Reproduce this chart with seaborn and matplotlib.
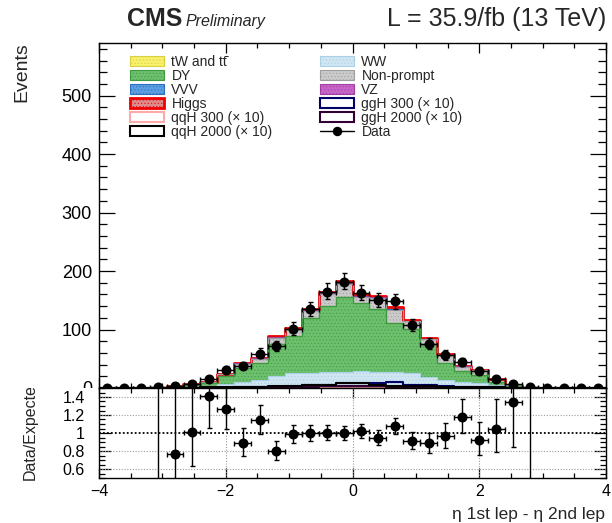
import numpy as np
import pandas as pd
import matplotlib
matplotlib.use("Agg")
import matplotlib.pyplot as plt
import seaborn as sns
from matplotlib.patches import Patch
from matplotlib.lines import Line2D
from matplotlib.transforms import Bbox, TransformedBbox
from matplotlib.ticker import MultipleLocator, FixedLocator

sns.set_theme(style="ticks")
plt.rcParams["font.family"] = ["Liberation Sans", "DejaVu Sans"]
plt.rcParams["hatch.linewidth"] = 0.35
plt.rcParams["axes.linewidth"] = 1.0
plt.rcParams["axes.edgecolor"] = "black"

# 30 bins of eta(lep1) - eta(lep2) between -4 and 4
n_bins = 30
x_range = (-4.0, 4.0)
bin_edges = np.linspace(x_range[0], x_range[1], n_bins + 1)
bin_centers = 0.5 * (bin_edges[:-1] + bin_edges[1:])
half_width = 0.5 * (bin_edges[1] - bin_edges[0])

# observed events per bin
data = [0, 0, 0, 1, 3, 7, 15, 31, 38, 59, 71, 101, 135, 165, 182,
        163, 150, 148, 107, 76, 56, 44, 29, 16, 7, 1, 0, 0, 0, 0]

# background expectations (stacked, bottom to top)
tt = [0, 0, 0, 0, 0.2, 0.3, 0.5, 0.8, 1.2, 1.5, 2.2, 2.8, 3.2, 3.8, 4.2,
      4.3, 4.3, 4.2, 3.5, 2.8, 2.2, 1.6, 1.2, 0.7, 0.3, 0.1, 0, 0, 0, 0]
ww = [0, 0, 0, 0.2, 1.0, 2.0, 3.0, 6.0, 9.0, 12.0, 18.0, 22.0, 22.0, 24.0, 24.0,
      25.0, 23.0, 24.0, 22.0, 16.0, 11.0, 9.0, 6.5, 4.0, 1.5, 0.2, 0, 0, 0, 0]
dy = [0, 0, 0, 0.1, 1.8, 3.2, 5.0, 13.2, 23.8, 29.5, 55.8, 64.2, 94.8, 112.2, 127.8,
      115.7, 107.7, 83.8, 75.5, 56.2, 29.8, 18.4, 14.3, 6.3, 1.7, 0.05, 0, 0, 0, 0]
nonprompt = [0, 0, 0, 0.1, 0.8, 1.2, 1.65, 3.55, 7.3, 7.1, 10.15, 10.55, 11.3, 20.6, 22.2,
             10.6, 18.7, 22.2, 12.85, 8.55, 13.2, 7.3, 8.55, 3.75, 1.5, 0.1, 0, 0, 0, 0]
vvv = [0, 0, 0, 0, 0, 0, 0.05, 0.05, 0.1, 0.1, 0.15, 0.15, 0.2, 0.2, 0.2,
       0.2, 0.2, 0.2, 0.15, 0.15, 0.1, 0.1, 0.05, 0.05, 0, 0, 0, 0, 0, 0]
vz = [0, 0, 0, 0, 0, 0.1, 0.2, 0.3, 0.5, 0.6, 0.9, 1.0, 1.2, 1.4, 1.5,
      1.4, 1.4, 1.2, 1.0, 0.8, 0.6, 0.4, 0.3, 0.2, 0.1, 0, 0, 0, 0, 0]
higgs = [0, 0, 0, 0, 0.1, 0.1, 0.2, 0.5, 0.8, 1.0, 1.6, 1.8, 2.3, 2.8, 3.1,
         2.8, 2.7, 2.4, 2.0, 1.5, 1.1, 0.7, 0.6, 0.3, 0.1, 0, 0, 0, 0, 0]

# signal hypotheses, scaled by 10 (drawn as outlines)
ggh300 = [0, 0, 0, 0, 0, 0.2, 0.4, 0.7, 1.0, 1.5, 2.0, 3.0, 4.5, 5.0, 8.0,
          8.5, 8.5, 11.0, 5.0, 5.0, 4.0, 2.0, 1.5, 1.0, 0.5, 0.2, 0, 0, 0, 0]
qqh300 = [0, 0, 0, 0, 0, 0.1, 0.2, 0.3, 0.5, 0.7, 0.9, 1.1, 1.3, 1.5, 1.7,
          1.7, 1.5, 1.3, 1.1, 0.9, 0.7, 0.5, 0.3, 0.2, 0.1, 0, 0, 0, 0, 0]
ggh2000 = [0, 0, 0, 0, 0.1, 0.2, 0.4, 0.6, 0.9, 1.2, 1.5, 1.8, 2.2, 2.6, 3.0,
           3.0, 2.6, 2.2, 1.8, 1.5, 1.2, 0.9, 0.6, 0.4, 0.2, 0.1, 0, 0, 0, 0]
qqh2000 = [0, 0, 0, 0, 0.3, 0.5, 1.0, 1.5, 2.0, 2.5, 3.0, 3.5, 4.5, 5.5, 8.0,
           8.0, 5.0, 4.0, 3.5, 3.0, 2.5, 2.0, 1.5, 1.0, 0.6, 0.3, 0.1, 0, 0, 0]

stack_values = [tt, ww, dy, nonprompt, vvv, vz, higgs]
stack_faces = ["#f7f06a", "#cfe6f2", "#6cbf6c", "#cacaca", "#5b9de0", "#c864c8", "#dc8a8a"]
stack_edges = ["#d8d040", "#a9d0e4", "#3f9a3f", "#9e9e9e", "#2f6fc0", "#a040a0", "#ee0000"]
stack_lw = [0.8, 0.8, 1.0, 0.8, 0.8, 0.8, 2.0]

fig = plt.figure(figsize=(6.12, 5.23), dpi=100)
W, H = 612.0, 523.0
ax = fig.add_axes([99 / W, 1 - 388 / H, 507 / W, 345 / H])
rax = fig.add_axes([99 / W, 1 - 478 / H, 507 / W, 90 / H])


def step_hist(values, **kws):
    frame = pd.DataFrame({"x": bin_centers, "w": np.asarray(values, dtype=float)})
    sns.histplot(data=frame, x="x", weights="w", bins=n_bins, binrange=x_range,
                 element="step", ax=ax, **kws)


# stacked backgrounds: draw cumulative sums from the top layer down
cumulative = np.cumsum(np.array(stack_values, dtype=float), axis=0)
for i in range(len(stack_values) - 1, -1, -1):
    step_hist(cumulative[i], fill=True, color=stack_faces[i], alpha=1,
              edgecolor=stack_edges[i], linewidth=0)
    ax.collections[-1].set_hatch(".....")
    step_hist(cumulative[i], fill=False, color=stack_edges[i], linewidth=stack_lw[i])

# signal outlines
signal_names = ["ggH 300 (\u00d7 10)", "qqH 300 (\u00d7 10)",
                "ggH 2000 (\u00d7 10)", "qqH 2000 (\u00d7 10)"]
signal_values = [ggh300, qqh300, ggh2000, qqh2000]
signal_colors = ["#000066", "#ffaaaa", "#330033", "#000000"]
for vals, col in zip(signal_values, signal_colors):
    step_hist(vals, fill=False, color=col, linewidth=1.5)

# data with asymmetric Poisson uncertainties
n = np.array(data, dtype=float)
err_lo = np.where(n > 0, np.sqrt(np.clip(n - 0.25, 0, None)), 0.0)
err_hi = np.sqrt(n + 0.75) + 1.0
ax.errorbar(bin_centers, n, xerr=half_width, yerr=[err_lo, err_hi], fmt="o",
            color="black", ms=6.2, lw=1.0, capsize=1.8, capthick=1.0, zorder=10)

ax.set_xlim(-4, 4)
ax.set_ylim(0, 590)
ax.set_xlabel("")
ax.set_ylabel("")
ax.yaxis.set_major_locator(FixedLocator([0, 100, 200, 300, 400, 500]))
ax.yaxis.set_minor_locator(MultipleLocator(20))
ax.xaxis.set_major_locator(MultipleLocator(2))
ax.xaxis.set_minor_locator(MultipleLocator(0.5))
ax.tick_params(axis="both", which="both", direction="in", top=True, right=True,
               labelbottom=False, colors="black")
ax.tick_params(axis="y", which="major", length=11.5, width=0.9, labelsize=13, pad=5)
ax.tick_params(axis="y", which="minor", length=6, width=0.9)
ax.tick_params(axis="x", which="major", length=7.5, width=0.9)
ax.tick_params(axis="x", which="minor", length=3.8, width=0.9)

# ratio panel
expected = cumulative[-1]
mask = expected > 0
ratio = n[mask] / expected[mask]
r_lo = err_lo[mask] / expected[mask]
r_hi = err_hi[mask] / expected[mask]
for yv in [0.6, 0.8, 1.2, 1.4]:
    rax.axhline(yv, color="#9a9a9a", lw=0.8, ls=(0, (1, 1.5)), zorder=1)
rax.axhline(1.0, color="black", lw=1.3, ls=(0, (1, 1.2)), zorder=1)
for xv in [-2, 0, 2]:
    rax.axvline(xv, color="#9a9a9a", lw=0.8, ls=(0, (1, 1.5)), zorder=1)
rax.errorbar(bin_centers[mask], ratio, xerr=half_width, yerr=[r_lo, r_hi], fmt="o",
             color="black", ms=6.2, lw=1.0, capsize=1.8, capthick=1.0, zorder=10)
rax.set_xlim(-4, 4)
rax.set_ylim(0.5, 1.5)
rax.yaxis.set_major_locator(FixedLocator([0.6, 0.8, 1.0, 1.2, 1.4]))
rax.set_yticklabels(["0.6", "0.8", "1", "1.2", "1.4"])
rax.yaxis.set_minor_locator(MultipleLocator(0.05))
rax.xaxis.set_major_locator(MultipleLocator(2))
rax.xaxis.set_minor_locator(MultipleLocator(0.5))
rax.tick_params(axis="both", which="both", direction="in", top=True, right=True,
                colors="black")
rax.tick_params(axis="y", which="major", length=8.4, width=0.9, labelsize=11.5, pad=10)
rax.tick_params(axis="y", which="minor", length=4.5, width=0.9)
rax.tick_params(axis="x", which="major", length=7, width=0.9, labelsize=11.5, pad=4)
rax.tick_params(axis="x", which="minor", length=3.5, width=0.9)

# the lower pad hides anything that reaches below the upper pad
lower_pad = TransformedBbox(Bbox([[0, 0], [1, 1 - 388 / H]]), fig.transFigure)
upper_pad = TransformedBbox(Bbox([[0, 1 - 388 / H], [1, 1]]), fig.transFigure)
fig.canvas.draw()
for tick in ax.yaxis.get_major_ticks():
    tick.label1.set_clip_box(upper_pad)
    tick.label1.set_clip_on(True)

# axis titles
fig.text(22 / W, 1 - 42 / H, "Events", rotation=90, ha="center", va="top", fontsize=14)
ylab = fig.text(30 / W, 1 - 480 / H, "Data/Expected", rotation=90, ha="center",
                va="bottom", fontsize=11.5)
ylab.set_clip_box(lower_pad)
ylab.set_clip_on(True)
fig.text(605 / W, 1 - 514 / H, "\u03b7 1st lep - \u03b7 2nd lep", ha="right",
         va="center", fontsize=12.5)

# header
fig.text(127 / W, 1 - 26 / H, "CMS", fontsize=18, fontweight="bold", ha="left",
         va="baseline")
fig.text(186 / W, 1 - 26 / H, "Preliminary", fontsize=11.5, fontstyle="italic",
         ha="left", va="baseline")
fig.text(606 / W, 1 - 26 / H, "L = 35.9/fb (13 TeV)", fontsize=18, ha="right",
         va="baseline")


# legend
def filled(i):
    return Patch(facecolor=stack_faces[i], edgecolor=stack_edges[i], hatch=".....",
                 linewidth=stack_lw[i] if i == 6 else 0.8)


def outline(j):
    return Patch(facecolor="white", edgecolor=signal_colors[j], linewidth=1.5)


data_handle = Line2D([0], [0], color="black", marker="o", ms=5.8, lw=1.0)
handles = [filled(0), filled(2), filled(4), filled(6), outline(1), outline(3),
           filled(1), filled(3), filled(5), outline(0), outline(2), data_handle]
labels = ["tW and tt\u0304", "DY", "VVV", "Higgs", signal_names[1], signal_names[3],
          "WW", "Non-prompt", "VZ", signal_names[0], signal_names[2], "Data"]
ax.legend(handles, labels, ncol=2, loc="upper left", bbox_to_anchor=(0.062, 0.966),
          frameon=False, fontsize=10, handlelength=2.4, handleheight=0.72,
          handletextpad=0.55, labelspacing=0.0, columnspacing=3.45,
          borderpad=0, borderaxespad=0)

fig.savefig("out.png", dpi=100)
